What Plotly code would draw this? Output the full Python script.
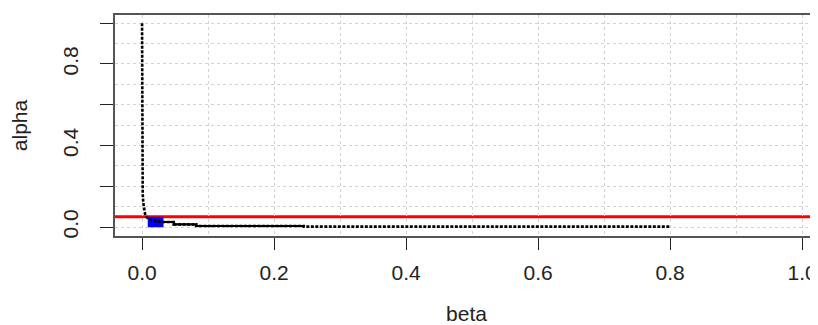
import plotly.graph_objects as go

# ---- data ----
beta = [0.0, 0.0003, 0.0006, 0.001, 0.002, 0.003, 0.005, 0.008, 0.012, 0.02, 0.032,
        0.048, 0.048, 0.082, 0.082, 0.245, 0.245, 0.8]
alpha = [1.0, 0.6, 0.3, 0.16, 0.115, 0.085, 0.057, 0.045, 0.036, 0.029, 0.0246,
         0.0246, 0.013, 0.013, 0.005, 0.005, 0.002, 0.002]

alpha_level = 0.05
rect_beta = [0.009, 0.032]
rect_alpha = [0.0, 0.049]

x_ticks = [0.0, 0.2, 0.4, 0.6, 0.8, 1.0]
x_ticktext = ["0.0", "0.2", "0.4", "0.6", "0.8", "1.0"]
y_ticks = [0.0, 0.2, 0.4, 0.6, 0.8, 1.0]
y_ticktext = ["0.0", "", "0.4", "", "0.8", ""]

FONT = "Liberation Sans, Arial, sans-serif"
GRID = "#d3d3d3"

fig = go.Figure()

# red horizontal reference line
fig.add_hline(y=alpha_level, line=dict(color="#ff0000", width=3), layer="below")

# blue rectangle
rx = [rect_beta[0], rect_beta[1], rect_beta[1], rect_beta[0], rect_beta[0]]
ry = [rect_alpha[0], rect_alpha[0], rect_alpha[1], rect_alpha[1], rect_alpha[0]]
fig.add_trace(go.Scatter(x=rx, y=ry, mode="lines", fill="toself",
                         fillcolor="#0000ff", line=dict(color="#0000ff", width=0.5),
                         hoverinfo="skip", showlegend=False))

# curve (dotted thick)
fig.add_trace(go.Scatter(x=beta, y=alpha, mode="lines",
                         line=dict(color="black", width=2.6, dash="3px,1.5px"),
                         showlegend=False))
# middle solid part
mid = [i for i, b in enumerate(beta) if 0.032 <= b <= 0.245]
mid = mid[:-1]
fig.add_trace(go.Scatter(x=[beta[i] for i in mid], y=[alpha[i] for i in mid],
                         mode="lines", line=dict(color="black", width=2.2),
                         showlegend=False))

grid_minor = dict(tickmode="linear", tick0=0, dtick=0.1, showgrid=True,
                  gridcolor=GRID, griddash="3px,3px", gridwidth=1, ticks="")

fig.update_xaxes(range=[-0.041, 1.024], tickmode="array", tickvals=x_ticks,
                 ticktext=x_ticktext, ticks="outside", ticklen=12, tickwidth=1.3,
                 tickcolor="#222", showline=True, linecolor="#555", linewidth=1.5,
                 mirror=True, showgrid=True, gridcolor=GRID,
                 griddash="3px,3px", gridwidth=1, zeroline=False,
                 minor=grid_minor,
                 tickfont=dict(family=FONT, size=21, color="#222"),
                 ticklabelstandoff=5,
                 title=dict(text="beta", font=dict(family=FONT, size=21, color="#222"),
                            standoff=26))
fig.update_yaxes(range=[-0.044, 1.04], tickmode="array", tickvals=y_ticks,
                 ticktext=y_ticktext, tickangle=-90, ticks="outside", ticklen=13,
                 tickwidth=1.3, tickcolor="#222", showline=True, linecolor="#555",
                 linewidth=1.5, mirror=False, showgrid=True, gridcolor=GRID,
                 griddash="3px,3px", gridwidth=1, zeroline=False,
                 minor=grid_minor,
                 tickfont=dict(family=FONT, size=21, color="#222"),
                 ticklabelstandoff=14,
                 title=dict(text="alpha", font=dict(family=FONT, size=21, color="#222"),
                            standoff=25))

# page body has an 8px margin, so the figure is sized to end at the window edge
fig.update_layout(width=810, height=317,
                  margin=dict(l=107, r=0, t=7, b=89),
                  paper_bgcolor="white", plot_bgcolor="white",
                  showlegend=False)

fig.write_html("out.html")
